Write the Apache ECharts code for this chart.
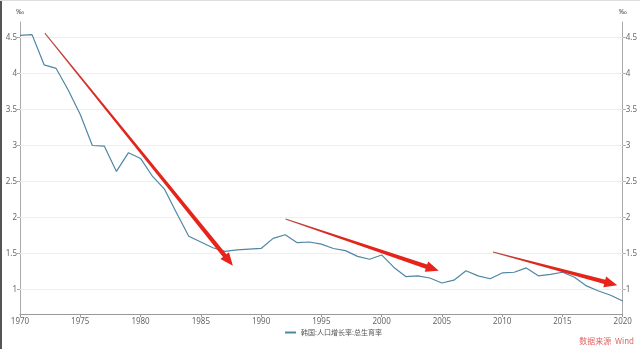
<!DOCTYPE html>
<html><head><meta charset="utf-8">
<script src="https://cdn.jsdelivr.net/npm/echarts@6/dist/echarts.min.js"></script>
<style>html,body{margin:0;padding:0;background:#fff}#c{width:640px;height:349px}</style>
</head><body><div id="c"></div>
<script>
const years = [1970,1971,1972,1973,1974,1975,1976,1977,1978,1979,1980,1981,1982,1983,1984,1985,1986,1987,1988,1989,1990,1991,1992,1993,1994,1995,1996,1997,1998,1999,2000,2001,2002,2003,2004,2005,2006,2007,2008,2009,2010,2011,2012,2013,2014,2015,2016,2017,2018,2019,2020];
const fertility = [4.53,4.54,4.12,4.07,3.77,3.43,3.00,2.99,2.64,2.90,2.82,2.57,2.39,2.06,1.74,1.66,1.58,1.53,1.55,1.56,1.57,1.71,1.76,1.65,1.66,1.63,1.57,1.54,1.46,1.42,1.48,1.31,1.18,1.19,1.16,1.09,1.13,1.26,1.19,1.15,1.23,1.24,1.30,1.19,1.21,1.24,1.17,1.05,0.98,0.92,0.84];
const yTicks = [1, 1.5, 2, 2.5, 3, 3.5, 4, 4.5];
const seriesName = '韩国:人口增长率:总生育率';
// trend arrows
const arrowStartYears = [1972.06, 1992.03, 2009.24];
const arrowStartValues = [4.56, 1.98, 1.52];
const arrowEndYears = [1987.66, 2004.74, 2019.55];
const arrowEndValues = [1.33, 1.26, 1.06];
const yMin = 0.66, yMax = 4.715;

const lineData = years.map((y,i)=>[y, fertility[i]]);
const arrowData = arrowStartYears.map((y,i)=>[y, arrowStartValues[i], arrowEndYears[i], arrowEndValues[i]]);

const chart = echarts.init(document.getElementById('c'));
const axisLbl = {fontSize:8, color:'#666', fontFamily:'Noto Sans'};
function yAxis(pos){
  return {type:'value', position:pos, min:yMin, max:yMax,
    name:'‰', nameGap:6, nameTextStyle:{fontSize:8,color:'#555', align: pos==='left'?'right':'left', padding: pos==='left'?[0,-4,0,0]:[0,0,0,-4]},
    axisLine:{show:true, lineStyle:{color:'#aaa', width:1}},
    axisTick:{show:true, length:3, customValues:yTicks, lineStyle:{color:'#aaa'}},
    axisLabel:Object.assign({margin:3, customValues:yTicks}, axisLbl),
    splitLine:{show:false}
  };
}
const gridLineData = yTicks.map(v=>({yAxis:v}));
chart.setOption({
  animation:false,
  grid:{left:20, right:14, top:22, bottom:35},
  legend:{bottom:8, left:280, itemWidth:11, itemHeight:2, itemGap:4, icon:'rect',
    textStyle:{fontSize:7, color:'#555', fontFamily:'Noto Sans CJK SC'}, data:[seriesName]},
  xAxis:{type:'value', min:1970, max:2020, interval:5,
    axisLine:{lineStyle:{color:'#999'}}, axisTick:{length:3, lineStyle:{color:'#999'}},
    axisLabel:Object.assign({margin:4, formatter:v=>String(v)}, axisLbl), splitLine:{show:false}},
  yAxis:[yAxis('left'), yAxis('right')],
  graphic:[
    {type:'rect', left:0, top:0, shape:{width:2, height:349}, style:{fill:'#555'}},
    {type:'rect', left:0, top:0, shape:{width:640, height:1}, style:{fill:'#ddd'}},
    {type:'text', right:6, bottom:4, style:{text:'数据来源  Wind', fontSize:8, fill:'#e06666', fontFamily:'Noto Sans CJK SC'}}
  ],
  series:[
    {name:seriesName, type:'line', data:lineData, showSymbol:false, symbol:'none',
      lineStyle:{color:'#4e87a5', width:1.2}, itemStyle:{color:'#4e87a5'}, z:2,
      markLine:{silent:true, symbol:'none', label:{show:false}, animation:false,
        lineStyle:{color:'#eeeeee', width:1, type:'solid'}, data:gridLineData, z:1}},
    {type:'custom', data:arrowData, z:3, silent:true,
      renderItem:function(params, api){
        const p1 = api.coord([api.value(0), api.value(1)]);
        const p2 = api.coord([api.value(2), api.value(3)]);
        const dx = p2[0]-p1[0], dy = p2[1]-p1[1];
        const len = Math.sqrt(dx*dx+dy*dy);
        const ux = dx/len, uy = dy/len, nx = -uy, ny = ux;
        const headL = 13, headW = 5.5, w0 = 0.5, w1 = 2.2;
        const bx = p2[0]-ux*headL, by = p2[1]-uy*headL;
        const pts = [
          [p1[0]+nx*w0, p1[1]+ny*w0],
          [bx+nx*w1, by+ny*w1],
          [bx+nx*headW, by+ny*headW],
          [p2[0], p2[1]],
          [bx-nx*headW, by-ny*headW],
          [bx-nx*w1, by-ny*w1],
          [p1[0]-nx*w0, p1[1]-ny*w0]
        ];
        return {type:'polygon', shape:{points:pts},
          style:{fill:{type:'linear', x:p1[0], y:p1[1], x2:p2[0], y2:p2[1], global:true,
            colorStops:[{offset:0,color:'#b84a40'},{offset:0.35,color:'#e0261c'},{offset:1,color:'#e8231a'}]}}};
      }
    }
  ]
});
</script></body></html>
